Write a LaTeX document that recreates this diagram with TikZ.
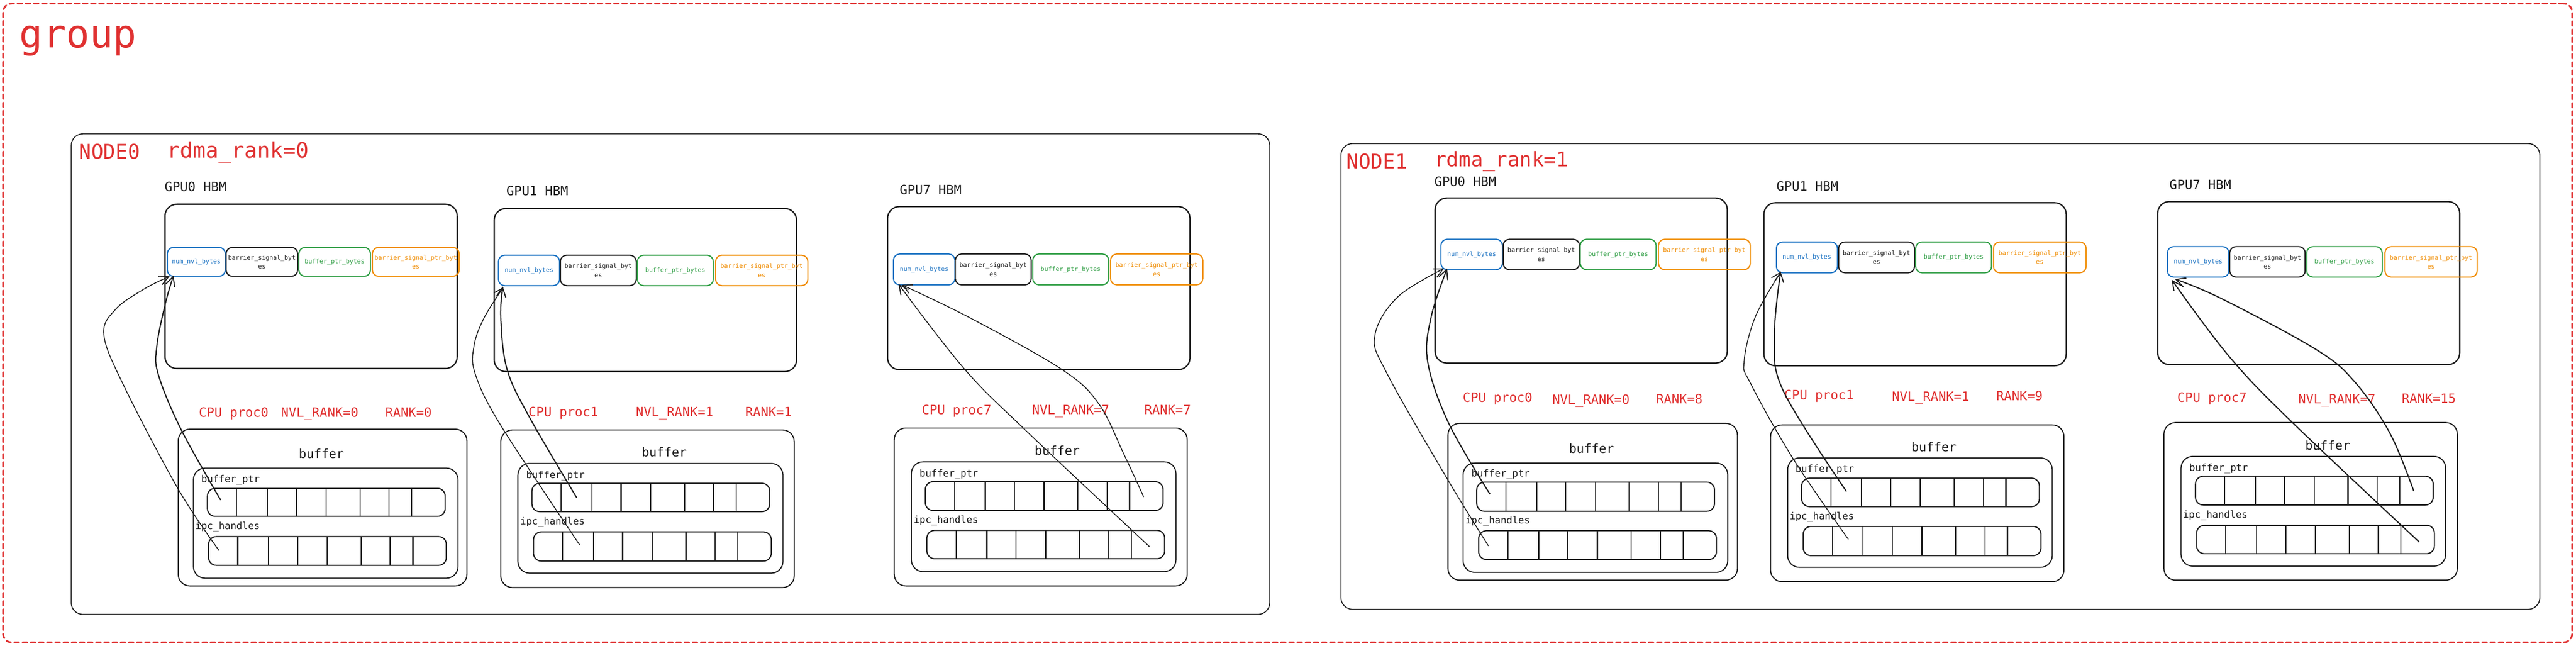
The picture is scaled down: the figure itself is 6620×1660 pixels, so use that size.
\documentclass[tikz,border=0pt]{standalone}
\usepackage{fontspec}
\setmainfont{DejaVu Sans Mono}
\usetikzlibrary{arrows.meta}
\definecolor{ink}{HTML}{1E1E1E}
\definecolor{xred}{HTML}{E03131}
\definecolor{xblue}{HTML}{1971C2}
\definecolor{xgreen}{HTML}{2F9E44}
\definecolor{xorange}{HTML}{F08C00}
\newcommand\fszCell{\fontsize{16pt}{23pt}\selectfont}
\newcommand\fszGroup{\fontsize{100pt}{110pt}\selectfont}
\newcommand\fszNode{\fontsize{52pt}{60pt}\selectfont}
\newcommand\fszNodeB{\fontsize{55pt}{60pt}\selectfont}
\newcommand\fszGpu{\fontsize{33pt}{40pt}\selectfont}
\newcommand\fszBuf{\fontsize{32pt}{40pt}\selectfont}
\newcommand\fszArr{\fontsize{25pt}{30pt}\selectfont}
\newcommand\cellnode[7]{%
  \pgfmathsetmacro\rkW{#5-#3}\pgfmathsetmacro\rkH{#6-#4}%
  \pgfmathsetmacro\rkX{(#3+#5)/2}\pgfmathsetmacro\rkY{(#4+#6)/2}%
  \node[#2, minimum width=\rkW pt, minimum height=\rkH pt] (#1) at (\rkX,\rkY) {#7};}
\newcommand\cellrow[4]{%
  \pgfmathsetmacro\rkH{#4-#3}%
  \node[arrbox, minimum width=611pt, minimum height=\rkH pt, anchor=north west] (#1) at (#2,#3) {};%
  \foreach \d in {75,154,229,305,392,467,525}{\draw[divline] ([xshift=\d pt]#1.north west) -- ([xshift=\d pt]#1.south west);}%
}
\tikzset{
  plainbox/.style={inner sep=0pt, outer sep=0pt},
  grpbox/.style={plainbox, draw=xred, line width=4.5pt, rounded corners=22pt, dash pattern=on 12pt off 9pt, line cap=round},
  nodebox/.style={plainbox, draw=ink, line width=2.4pt, rounded corners=30pt},
  gbox/.style={plainbox, draw=ink, line width=3.4pt, rounded corners=30pt},
  cbase/.style={plainbox, line width=3pt, rounded corners=16pt, align=center, font=\fszCell},
  cblue/.style={cbase, draw=xblue, text=xblue},
  cblack/.style={cbase, draw=ink, text=ink},
  cgreen/.style={cbase, draw=xgreen, text=xgreen},
  corange/.style={cbase, draw=xorange, text=xorange},
  bbox/.style={plainbox, draw=ink, line width=2.8pt, rounded corners=30pt},
  ibox/.style={plainbox, draw=ink, line width=2.8pt, rounded corners=30pt},
  arrbox/.style={plainbox, draw=ink, line width=3pt, rounded corners=20pt},
  divline/.style={draw=ink, line width=3pt},
  txt/.style={inner sep=0pt, anchor=base west},
  grouplab/.style={txt, text=xred, font=\fszGroup},
  nodelab/.style={txt, text=xred, font=\fszNode},
  gpulab/.style={txt, text=ink, font=\fszGpu},
  cpulab/.style={txt, text=xred, font=\fszGpu},
  buflab/.style={txt, text=ink, font=\fszBuf},
  arrlab/.style={txt, text=ink, font=\fszArr},
  conA/.style={draw=ink, line width=3pt, -{Straight Barb[length=24pt,width=24pt,line width=2.8pt]}},
  conB/.style={draw=ink, line width=2.2pt, -{Straight Barb[length=24pt,width=24pt,line width=2.4pt]}},
}
\begin{document}
\begin{tikzpicture}[x=1pt,y=-1pt]
\useasboundingbox (0,0) rectangle (6620,1660);
\fill[white] (0,0) rectangle (6620,1660);
% group
\node[grpbox, minimum width=6602pt, minimum height=1642pt, anchor=north west] (grp) at (8,9) {};
\node[grouplab] (grplab) at (50,123) {group};
% nodes
\node[nodebox, minimum width=3080pt, minimum height=1235pt, anchor=north west] (node0) at (183,344) {};
\node[nodelab] (node0lab) at (203,408) {NODE0};
\node[nodelab, font=\fszNodeB] (node0rk) at (429,406) {rdma\_rank=0};
\node[nodebox, minimum width=3081pt, minimum height=1197pt, anchor=north west] (node1) at (3446,369) {};
\node[nodelab] (node1lab) at (3460,433) {NODE1};
\node[nodelab] (node1rk) at (3686,428) {rdma\_rank=1};

% ===== Column A : NODE0 GPU0
\node[gpulab] (A-lab) at (423,492) {GPU0 HBM};
\cellnode{A-gpu}{gbox}{424}{525}{1175}{947}{}
\cellnode{A-num}{cblue}{430}{636}{579}{710}{num\_nvl\_bytes}
\cellnode{A-bar}{cblack}{581}{636}{765}{710}{barrier\_signal\_byt\\es}
\cellnode{A-bp}{cgreen}{768}{636}{952}{710}{buffer\_ptr\_bytes}
\cellnode{A-bpp}{corange}{957}{636}{1180}{710}{barrier\_signal\_ptr\_byt\\es}
\node[cpulab] (A-cpu) at (511,1072) {CPU proc0};
\node[cpulab] (A-nvl) at (722,1072) {NVL\_RANK=0};
\node[cpulab] (A-rank) at (990,1072) {RANK=0};
\cellnode{A-buf}{bbox}{458}{1103}{1200}{1506}{}
\node[buflab] (A-buft) at (768,1178) {buffer};
\cellnode{A-in}{ibox}{497}{1203}{1177}{1486}{}
\node[arrlab] (A-bpl) at (517,1240) {buffer\_ptr};
\cellrow{A-r1}{533}{1255}{1327}
\node[arrlab] (A-ipl) at (502,1361) {ipc\_handles};
\cellrow{A-r2}{536}{1379}{1453}
\coordinate (A-s1) at (567,1285); \coordinate (A-t1) at (446,708);
\coordinate (A-s2) at (563,1415); \coordinate (A-t2) at (436,710);
\draw[conA] plot[smooth,tension=0.6] coordinates {(A-s1) (465,1103) (407,963) (403,890) (425,780) (A-t1)};
\draw[conB] plot[smooth,tension=0.6] coordinates {(A-s2) (458,1257) (319,993) (267,861) (297,795) (370,743) (A-t2)};

% ===== Column B : NODE0 GPU1
\node[gpulab] (B-lab) at (1301,503) {GPU1 HBM};
\cellnode{B-gpu}{gbox}{1270}{536}{2047}{955}{}
\cellnode{B-num}{cblue}{1281}{656}{1438}{734}{num\_nvl\_bytes}
\cellnode{B-bar}{cblack}{1440}{656}{1635}{734}{barrier\_signal\_byt\\es}
\cellnode{B-bp}{cgreen}{1638}{656}{1833}{734}{buffer\_ptr\_bytes}
\cellnode{B-bpp}{corange}{1839}{656}{2076}{734}{barrier\_signal\_ptr\_byt\\es}
\node[cpulab] (B-cpu) at (1358,1070) {CPU proc1};
\node[cpulab] (B-nvl) at (1634,1070) {NVL\_RANK=1};
\node[cpulab] (B-rank) at (1915,1070) {RANK=1};
\cellnode{B-buf}{bbox}{1287}{1105}{2041}{1510}{}
\node[buflab] (B-buft) at (1649,1174) {buffer};
\cellnode{B-in}{ibox}{1331}{1191}{2012}{1473}{}
\node[arrlab] (B-bpl) at (1352,1229) {buffer\_ptr};
\cellrow{B-r1}{1367}{1242}{1315}
\node[arrlab] (B-ipl) at (1337,1348) {ipc\_handles};
\cellrow{B-r2}{1371}{1367}{1442}
\coordinate (B-s1) at (1482,1279); \coordinate (B-t1) at (1292,736);
\coordinate (B-s2) at (1490,1401); \coordinate (B-t2) at (1294,738);
\draw[conA] plot[smooth,tension=0.6] coordinates {(B-s1) (1361,1073) (1303,949) (1287,817) (B-t1)};
\draw[conB] plot[smooth,tension=0.6] coordinates {(B-s2) (1288,1095) (1222,963) (1218,890) (1244,817) (B-t2)};

% ===== Column C : NODE0 GPU7
\node[gpulab] (C-lab) at (2312,500) {GPU7 HBM};
\cellnode{C-gpu}{gbox}{2281}{531}{3058}{950}{}
\cellnode{C-num}{cblue}{2296}{653}{2454}{732}{num\_nvl\_bytes}
\cellnode{C-bar}{cblack}{2455}{653}{2650}{732}{barrier\_signal\_byt\\es}
\cellnode{C-bp}{cgreen}{2654}{653}{2849}{732}{buffer\_ptr\_bytes}
\cellnode{C-bpp}{corange}{2854}{653}{3091}{732}{barrier\_signal\_ptr\_byt\\es}
\node[cpulab] (C-cpu) at (2369,1065) {CPU proc7};
\node[cpulab] (C-nvl) at (2652,1065) {NVL\_RANK=7};
\node[cpulab] (C-rank) at (2941,1065) {RANK=7};
\cellnode{C-buf}{bbox}{2298}{1100}{3051}{1506}{}
\node[buflab] (C-buft) at (2659,1170) {buffer};
\cellnode{C-in}{ibox}{2342}{1187}{3022}{1469}{}
\node[arrlab] (C-bpl) at (2363,1225) {buffer\_ptr};
\cellrow{C-r1}{2378}{1238}{1312}
\node[arrlab] (C-ipl) at (2348,1345) {ipc\_handles};
\cellrow{C-r2}{2382}{1363}{1436}
\coordinate (C-s1) at (2939,1277); \coordinate (C-t1) at (2317,732);
\coordinate (C-s2) at (2954,1405); \coordinate (C-t2) at (2309,730);
\draw[conB] plot[smooth,tension=0.6] coordinates {(C-s1) (2889,1169) (2823,1037) (2728,949) (2493,817) (C-t1)};
\draw[conB] plot[smooth,tension=0.6] coordinates {(C-s2) (2640,1110) (2479,949) (C-t2)};

% ===== Column D : NODE1 GPU0
\node[gpulab] (D-lab) at (3686,478) {GPU0 HBM};
\cellnode{D-gpu}{gbox}{3688}{509}{4439}{933}{}
\cellnode{D-num}{cblue}{3703}{615}{3861}{693}{num\_nvl\_bytes}
\cellnode{D-bar}{cblack}{3863}{615}{4059}{693}{barrier\_signal\_byt\\es}
\cellnode{D-bp}{cgreen}{4061}{615}{4256}{693}{buffer\_ptr\_bytes}
\cellnode{D-bpp}{corange}{4262}{615}{4498}{693}{barrier\_signal\_ptr\_byt\\es}
\node[cpulab] (D-cpu) at (3759,1033) {CPU proc0};
\node[cpulab] (D-nvl) at (3989,1039) {NVL\_RANK=0};
\node[cpulab] (D-rank) at (4256,1038) {RANK=8};
\cellnode{D-buf}{bbox}{3721}{1088}{4465}{1491}{}
\node[buflab] (D-buft) at (4032,1165) {buffer};
\cellnode{D-in}{ibox}{3760}{1190}{4440}{1471}{}
\node[arrlab] (D-bpl) at (3781,1226) {buffer\_ptr};
\cellrow{D-r1}{3795}{1239}{1314}
\node[arrlab] (D-ipl) at (3766,1346) {ipc\_handles};
\cellrow{D-r2}{3800}{1364}{1438}
\coordinate (D-s1) at (3829,1270); \coordinate (D-t1) at (3719,690);
\coordinate (D-s2) at (3825,1403); \coordinate (D-t2) at (3711,690);
\draw[conA] plot[smooth,tension=0.6] coordinates {(D-s1) (3723,1088) (3669,930) (3678,814) (D-t1)};
\draw[conB] plot[smooth,tension=0.6] coordinates {(D-s2) (3723,1237) (3566,963) (3533,864) (3591,764) (D-t2)};

% ===== Column E : NODE1 GPU1
\node[gpulab] (E-lab) at (4565,491) {GPU1 HBM};
\cellnode{E-gpu}{gbox}{4533}{521}{5310}{940}{}
\cellnode{E-num}{cblue}{4565}{622}{4722}{701}{num\_nvl\_bytes}
\cellnode{E-bar}{cblack}{4725}{622}{4920}{701}{barrier\_signal\_byt\\es}
\cellnode{E-bp}{cgreen}{4923}{622}{5118}{701}{buffer\_ptr\_bytes}
\cellnode{E-bpp}{corange}{5123}{622}{5361}{701}{barrier\_signal\_ptr\_byt\\es}
\node[cpulab] (E-cpu) at (4585,1027) {CPU proc1};
\node[cpulab] (E-nvl) at (4862,1031) {NVL\_RANK=1};
\node[cpulab] (E-rank) at (5130,1029) {RANK=9};
\cellnode{E-buf}{bbox}{4550}{1092}{5304}{1495}{}
\node[buflab] (E-buft) at (4912,1160) {buffer};
\cellnode{E-in}{ibox}{4594}{1177}{5274}{1458}{}
\node[arrlab] (E-bpl) at (4614,1214) {buffer\_ptr};
\cellrow{E-r1}{4630}{1229}{1302}
\node[arrlab] (E-ipl) at (4599,1335) {ipc\_handles};
\cellrow{E-r2}{4634}{1353}{1428}
\coordinate (E-s1) at (4745,1263); \coordinate (E-t1) at (4576,698);
\coordinate (E-s2) at (4750,1386); \coordinate (E-t2) at (4577,698);
\draw[conA] plot[smooth,tension=0.6] coordinates {(E-s1) (4583,1005) (4560,864) (E-t1)};
\draw[conB] plot[smooth,tension=0.6] coordinates {(E-s2) (4608,1179) (4500,988) (4482,930) (4511,814) (E-t2)};

% ===== Column F : NODE1 GPU7
\node[gpulab] (F-lab) at (5575,487) {GPU7 HBM};
\cellnode{F-gpu}{gbox}{5545}{518}{6321}{937}{}
\cellnode{F-num}{cblue}{5570}{634}{5728}{712}{num\_nvl\_bytes}
\cellnode{F-bar}{cblack}{5730}{634}{5924}{712}{barrier\_signal\_byt\\es}
\cellnode{F-bp}{cgreen}{5928}{634}{6122}{712}{buffer\_ptr\_bytes}
\cellnode{F-bpp}{corange}{6129}{634}{6366}{712}{barrier\_signal\_ptr\_byt\\es}
\node[cpulab] (F-cpu) at (5595,1033) {CPU proc7};
\node[cpulab] (F-nvl) at (5906,1038) {NVL\_RANK=7};
\node[cpulab] (F-rank) at (6172,1036) {RANK=15};
\cellnode{F-buf}{bbox}{5561}{1086}{6315}{1491}{}
\node[buflab] (F-buft) at (5924,1156) {buffer};
\cellnode{F-in}{ibox}{5605}{1173}{6285}{1455}{}
\node[arrlab] (F-bpl) at (5626,1211) {buffer\_ptr};
\cellrow{F-r1}{5642}{1224}{1298}
\node[arrlab] (F-ipl) at (5610,1331) {ipc\_handles};
\cellrow{F-r2}{5645}{1350}{1423}
\coordinate (F-s1) at (6203,1262); \coordinate (F-t1) at (5589,717);
\coordinate (F-s2) at (6217,1393); \coordinate (F-t2) at (5581,719);
\draw[conA] plot[smooth,tension=0.6] coordinates {(F-s1) (6141,1112) (6050,980) (5950,897) (5710,768) (F-t1)};
\draw[conA] plot[smooth,tension=0.6] coordinates {(F-s2) (5884,1079) (5726,913) (F-t2)};
\end{tikzpicture}
\end{document}
